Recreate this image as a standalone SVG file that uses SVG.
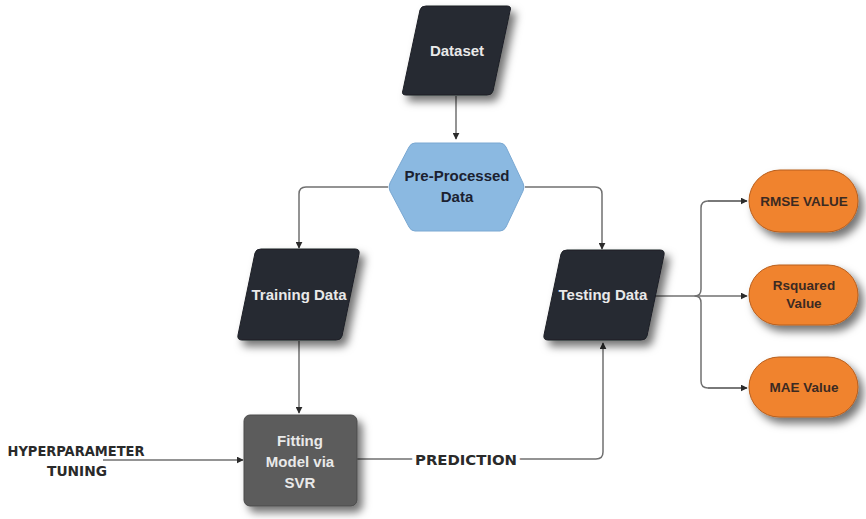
<svg xmlns="http://www.w3.org/2000/svg" width="866" height="519" viewBox="0 0 866 519">
  <defs>
    <filter id="shadow" x="-20%" y="-20%" width="150%" height="150%">
      <feDropShadow dx="5" dy="6" stdDeviation="4" flood-color="#000" flood-opacity="0.55"/>
    </filter>
    <marker id="arrow" viewBox="0 0 10 10" refX="9" refY="5" markerWidth="7" markerHeight="7" orient="auto" markerUnits="userSpaceOnUse">
      <path d="M0,0 L10,5 L0,10 z" fill="#2b2b2b"/>
    </marker>
    <style>
      .dark { fill: #272b33; stroke: #1c1f25; stroke-width: 1; stroke-linejoin: round; filter: url(#shadow); }
      .hex { fill: #8bb9e1; stroke: #7aa8d2; stroke-width: 1; stroke-linejoin: round; }
      .gray { fill: #5b5b5b; stroke: #4a4a4a; stroke-width: 1; filter: url(#shadow); }
      .pill { fill: #f0832f; stroke: #b85e1c; stroke-width: 1; filter: url(#shadow); }
      .lbl { font-family: "Liberation Sans", Arial, sans-serif; font-weight: bold; text-anchor: middle; }
      .light { fill: #e9e9e9; font-size: 15px; }
      .navy { fill: #1b2130; font-size: 15px; }
      .brown { fill: #3b2a22; font-size: 13.5px; }
      .hand { font-family: "DejaVu Sans Condensed", "DejaVu Sans", sans-serif; font-weight: bold; font-size: 14px; fill: #2a2a2a; }
      .conn { fill: none; stroke: #707070; stroke-width: 1.5; stroke-linejoin: round; }
    </style>
  </defs>
  <rect width="866" height="519" fill="#ffffff"/>

  <!-- connectors -->
  <g id="connectors">
    <path class="conn" d="M456,96 L456,139" marker-end="url(#arrow)"/>
    <path class="conn" d="M388,187 L306,187 Q299,187 299,194 L299,248" marker-end="url(#arrow)"/>
    <path class="conn" d="M525,187 L595,187 Q602,187 602,194 L602,249" marker-end="url(#arrow)"/>
    <path class="conn" d="M299,341 L299,413" marker-end="url(#arrow)"/>
    <path class="conn" d="M103,460 L243,460" marker-end="url(#arrow)"/>
    <path class="conn" d="M357,459 L596,459 Q603,459 603,452 L603,343" marker-end="url(#arrow)"/>
    <path class="conn" d="M655,296 L695,296"/>
    <path class="conn" d="M747,201 L708,201 Q701,201 701,208 L701,289 Q701,296 695,296 Q701,296 701,303 L701,381 Q701,388 708,388 L747,388"/>
    <path class="conn" d="M708,201 L747,201" marker-end="url(#arrow)"/>
    <path class="conn" d="M695,296 L747,296" marker-end="url(#arrow)"/>
    <path class="conn" d="M708,388 L747,388" marker-end="url(#arrow)"/>
    <text class="hand" x="466" y="465" text-anchor="middle" textLength="102" lengthAdjust="spacingAndGlyphs" stroke="#ffffff" stroke-width="7" paint-order="stroke">PREDICTION</text>
  </g>

  <g id="dataset">
    <path class="dark" d="M426,6 L507,6 Q512,6 510,11 L493,91 Q492,95 487,95 L406,95 Q401,95 403,90 L420,10 Q421,6 426,6 z"/>
    <text class="lbl light" x="457" y="56">Dataset</text>
  </g>

  <g id="preprocessed">
    <path class="hex" d="M415,143 L500,143 Q504,143 506,147 L523,183 Q525,187 523,191 L506,227 Q504,231 500,231 L415,231 Q411,231 409,227 L390,191 Q388,187 390,183 L409,147 Q411,143 415,143 z"/>
    <text class="lbl navy" x="457" y="181">Pre-Processed</text>
    <text class="lbl navy" x="457" y="202">Data</text>
  </g>

  <g id="training">
    <path class="dark" d="M261,249 L355,249 Q360,249 359,254 L342,336 Q341,340 336,340 L242,340 Q237,340 238,335 L255,253 Q256,249 261,249 z"/>
    <text class="lbl light" x="299" y="300">Training Data</text>
  </g>

  <g id="testing">
    <path class="dark" d="M567,250 L660,250 Q665,250 664,255 L647,336 Q646,340 641,340 L548,340 Q543,340 544,335 L561,254 Q562,250 567,250 z"/>
    <text class="lbl light" x="603" y="300">Testing Data</text>
  </g>

  <g id="fitting">
    <rect class="gray" x="244" y="415" width="113" height="91" rx="6"/>
    <text class="lbl light" x="300" y="446">Fitting</text>
    <text class="lbl light" x="300" y="467">Model via</text>
    <text class="lbl light" x="300" y="488">SVR</text>
  </g>

  <g id="hyperparameter">
    <text class="hand" x="76" y="456" text-anchor="middle" textLength="137" lengthAdjust="spacingAndGlyphs">HYPERPARAMETER</text>
    <text class="hand" x="77" y="476" text-anchor="middle" textLength="60" lengthAdjust="spacingAndGlyphs">TUNING</text>
  </g>

  <g id="rmse">
    <rect class="pill" x="749" y="170" width="109" height="62" rx="31"/>
    <text class="lbl brown" x="804" y="206">RMSE VALUE</text>
  </g>

  <g id="rsquared">
    <rect class="pill" x="749" y="265" width="109" height="60" rx="30"/>
    <text class="lbl brown" x="804" y="290">Rsquared</text>
    <text class="lbl brown" x="804" y="308">Value</text>
  </g>

  <g id="mae">
    <rect class="pill" x="749" y="357" width="109" height="60" rx="30"/>
    <text class="lbl brown" x="804" y="392">MAE Value</text>
  </g>
</svg>
